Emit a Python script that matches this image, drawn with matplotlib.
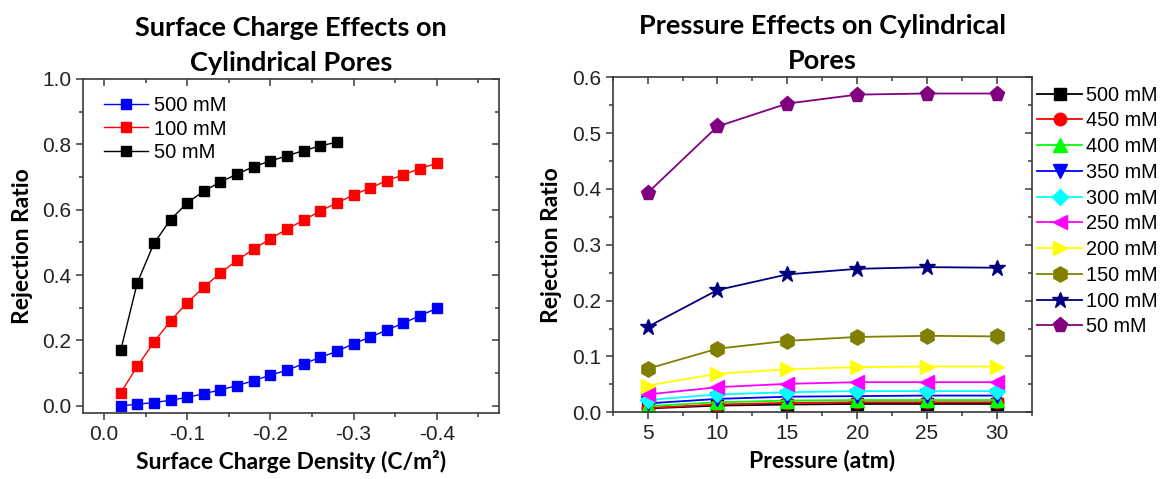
import matplotlib
matplotlib.use("Agg")
import matplotlib.pyplot as plt
from matplotlib.ticker import MultipleLocator

# surface charge sweep (C/m^2)
charge = [-0.02, -0.04, -0.06, -0.08, -0.10, -0.12, -0.14, -0.16, -0.18, -0.20,
          -0.22, -0.24, -0.26, -0.28, -0.30, -0.32, -0.34, -0.36, -0.38, -0.40]
rej_500 = [0.000, 0.005, 0.010, 0.017, 0.026, 0.037, 0.049, 0.062, 0.077, 0.094,
           0.109, 0.129, 0.148, 0.167, 0.190, 0.210, 0.232, 0.253, 0.276, 0.298]
rej_100 = [0.040, 0.121, 0.195, 0.260, 0.316, 0.363, 0.407, 0.445, 0.480, 0.511,
           0.541, 0.568, 0.596, 0.621, 0.645, 0.667, 0.689, 0.707, 0.726, 0.742]
rej_50 = [0.170, 0.377, 0.497, 0.570, 0.621, 0.657, 0.685, 0.709, 0.732, 0.749,
          0.765, 0.781, 0.795, 0.807]
charge_labels = ["500 mM", "100 mM", "50 mM"]

# pressure sweep (atm)
pressure = [5, 10, 15, 20, 25, 30]
conc_labels = ["500 mM", "450 mM", "400 mM", "350 mM", "300 mM",
               "250 mM", "200 mM", "150 mM", "100 mM", "50 mM"]
p_500 = [0.007, 0.012, 0.014, 0.015, 0.015, 0.015]
p_450 = [0.008, 0.014, 0.017, 0.018, 0.018, 0.018]
p_400 = [0.011, 0.018, 0.021, 0.022, 0.022, 0.022]
p_350 = [0.016, 0.024, 0.028, 0.029, 0.030, 0.030]
p_300 = [0.022, 0.032, 0.036, 0.038, 0.038, 0.038]
p_250 = [0.032, 0.045, 0.051, 0.054, 0.054, 0.054]
p_200 = [0.048, 0.069, 0.077, 0.081, 0.082, 0.082]
p_150 = [0.078, 0.114, 0.128, 0.135, 0.137, 0.136]
p_100 = [0.153, 0.219, 0.247, 0.257, 0.260, 0.259]
p_50 = [0.393, 0.512, 0.553, 0.569, 0.571, 0.571]

HEAD = "Lato"
TICK = "Liberation Sans"
AXC = "#3a3a3a"


def style_axes(ax, xmaj, xmin, ymaj, ymin):
    for s in ax.spines.values():
        s.set_color(AXC)
        s.set_linewidth(1.2)
    ax.xaxis.set_major_locator(MultipleLocator(xmaj))
    ax.xaxis.set_minor_locator(MultipleLocator(xmin))
    ax.yaxis.set_major_locator(MultipleLocator(ymaj))
    ax.yaxis.set_minor_locator(MultipleLocator(ymin))
    ax.tick_params(which="both", direction="out", color=AXC, width=1.1,
                   labelsize=15, labelcolor="#222222")
    ax.tick_params(which="major", length=5)
    ax.tick_params(which="minor", length=3)

    # mirrored ticks on top / right point inward
    top = ax.secondary_xaxis("top")
    top.xaxis.set_major_locator(MultipleLocator(xmaj))
    top.xaxis.set_minor_locator(MultipleLocator(xmin))
    top.tick_params(which="both", direction="in", color=AXC, width=1.1, labeltop=False)
    top.tick_params(which="major", length=5)
    top.tick_params(which="minor", length=3)
    top.spines["top"].set_visible(False)
    right = ax.secondary_yaxis("right")
    right.yaxis.set_major_locator(MultipleLocator(ymaj))
    right.yaxis.set_minor_locator(MultipleLocator(ymin))
    right.tick_params(which="both", direction="in", color=AXC, width=1.1, labelright=False)
    right.tick_params(which="major", length=5)
    right.tick_params(which="minor", length=3)
    right.spines["right"].set_visible(False)


def head(ax, title, xlabel):
    ax.set_title(title, family=HEAD, fontweight="bold", fontsize=19.5, pad=6,
                 linespacing=1.55)
    ax.set_xlabel(xlabel, family=HEAD, fontweight="bold", fontsize=16.5, labelpad=5)
    ax.set_ylabel("Rejection Ratio", family=HEAD, fontweight="bold", fontsize=16.5,
                  labelpad=7)


fig = plt.figure(figsize=(11.7, 4.79), dpi=100)
ax1 = fig.add_axes([0.0712, 0.1384, 0.3553, 0.6967])
ax2 = fig.add_axes([0.5237, 0.1392, 0.3581, 0.6994])

# left: surface charge
for y, c, lab in [(rej_500, "#0000FF", charge_labels[0]),
                  (rej_100, "#FF0000", charge_labels[1]),
                  (rej_50, "#000000", charge_labels[2])]:
    ax1.plot(charge[:len(y)], y, color=c, lw=1.0, marker="s", ms=7,
             mec=c, mfc=c, label=lab)
ax1.set_xlim(0.025, -0.475)
ax1.set_ylim(-0.021, 1.0)
style_axes(ax1, 0.1, 0.05, 0.2, 0.1)
ax1.set_xticks([0.0, -0.1, -0.2, -0.3, -0.4])
ax1.set_xticklabels(["0.0", "-0.1", "-0.2", "-0.3", "-0.4"], family=TICK)
ax1.set_yticks([0.0, 0.2, 0.4, 0.6, 0.8, 1.0])
ax1.set_yticklabels(["0.0", "0.2", "0.4", "0.6", "0.8", "1.0"], family=TICK)
head(ax1, "Surface Charge Effects on\nCylindrical Pores",
     "Surface Charge Density (C/m²)")
ax1.legend(loc="upper left", bbox_to_anchor=(0.02, 0.985), frameon=False,
           prop={"family": TICK, "size": 14.5}, handlelength=2.2,
           handletextpad=0.3, labelspacing=0.22, borderaxespad=0.2)

# right: pressure
series = [p_500, p_450, p_400, p_350, p_300, p_250, p_200, p_150, p_100, p_50]
colors = ["#000000", "#FF0000", "#00FF00", "#0000FF", "#00FFFF",
          "#FF00FF", "#FFFF00", "#808000", "#000080", "#800080"]
markers = ["s", "o", "^", "v", "D", "<", ">", "h", "*", "p"]
sizes = [8, 9, 10, 10, 8, 10, 10, 11, 12, 11]
for y, c, m, s, lab in zip(series, colors, markers, sizes, conc_labels):
    ax2.plot(pressure, y, color=c, lw=1.3, marker=m, ms=s, mec=c, mfc=c, label=lab)
ax2.set_xlim(2.5, 32.5)
ax2.set_ylim(0.0, 0.6)
style_axes(ax2, 5, 2.5, 0.1, 0.05)
ax2.set_xticks(pressure)
ax2.set_xticklabels([str(p) for p in pressure], family=TICK)
ax2.set_yticks([0.0, 0.1, 0.2, 0.3, 0.4, 0.5, 0.6])
ax2.set_yticklabels(["0.0", "0.1", "0.2", "0.3", "0.4", "0.5", "0.6"], family=TICK)
head(ax2, "Pressure Effects on Cylindrical\nPores", "Pressure (atm)")
ax2.legend(loc="upper left", bbox_to_anchor=(1.0, 0.99), frameon=False,
           prop={"family": TICK, "size": 14.3}, handlelength=2.3,
           handletextpad=0.2, labelspacing=0.34, borderaxespad=0.15,
           borderpad=0.1)

fig.savefig("out.png", dpi=100)
